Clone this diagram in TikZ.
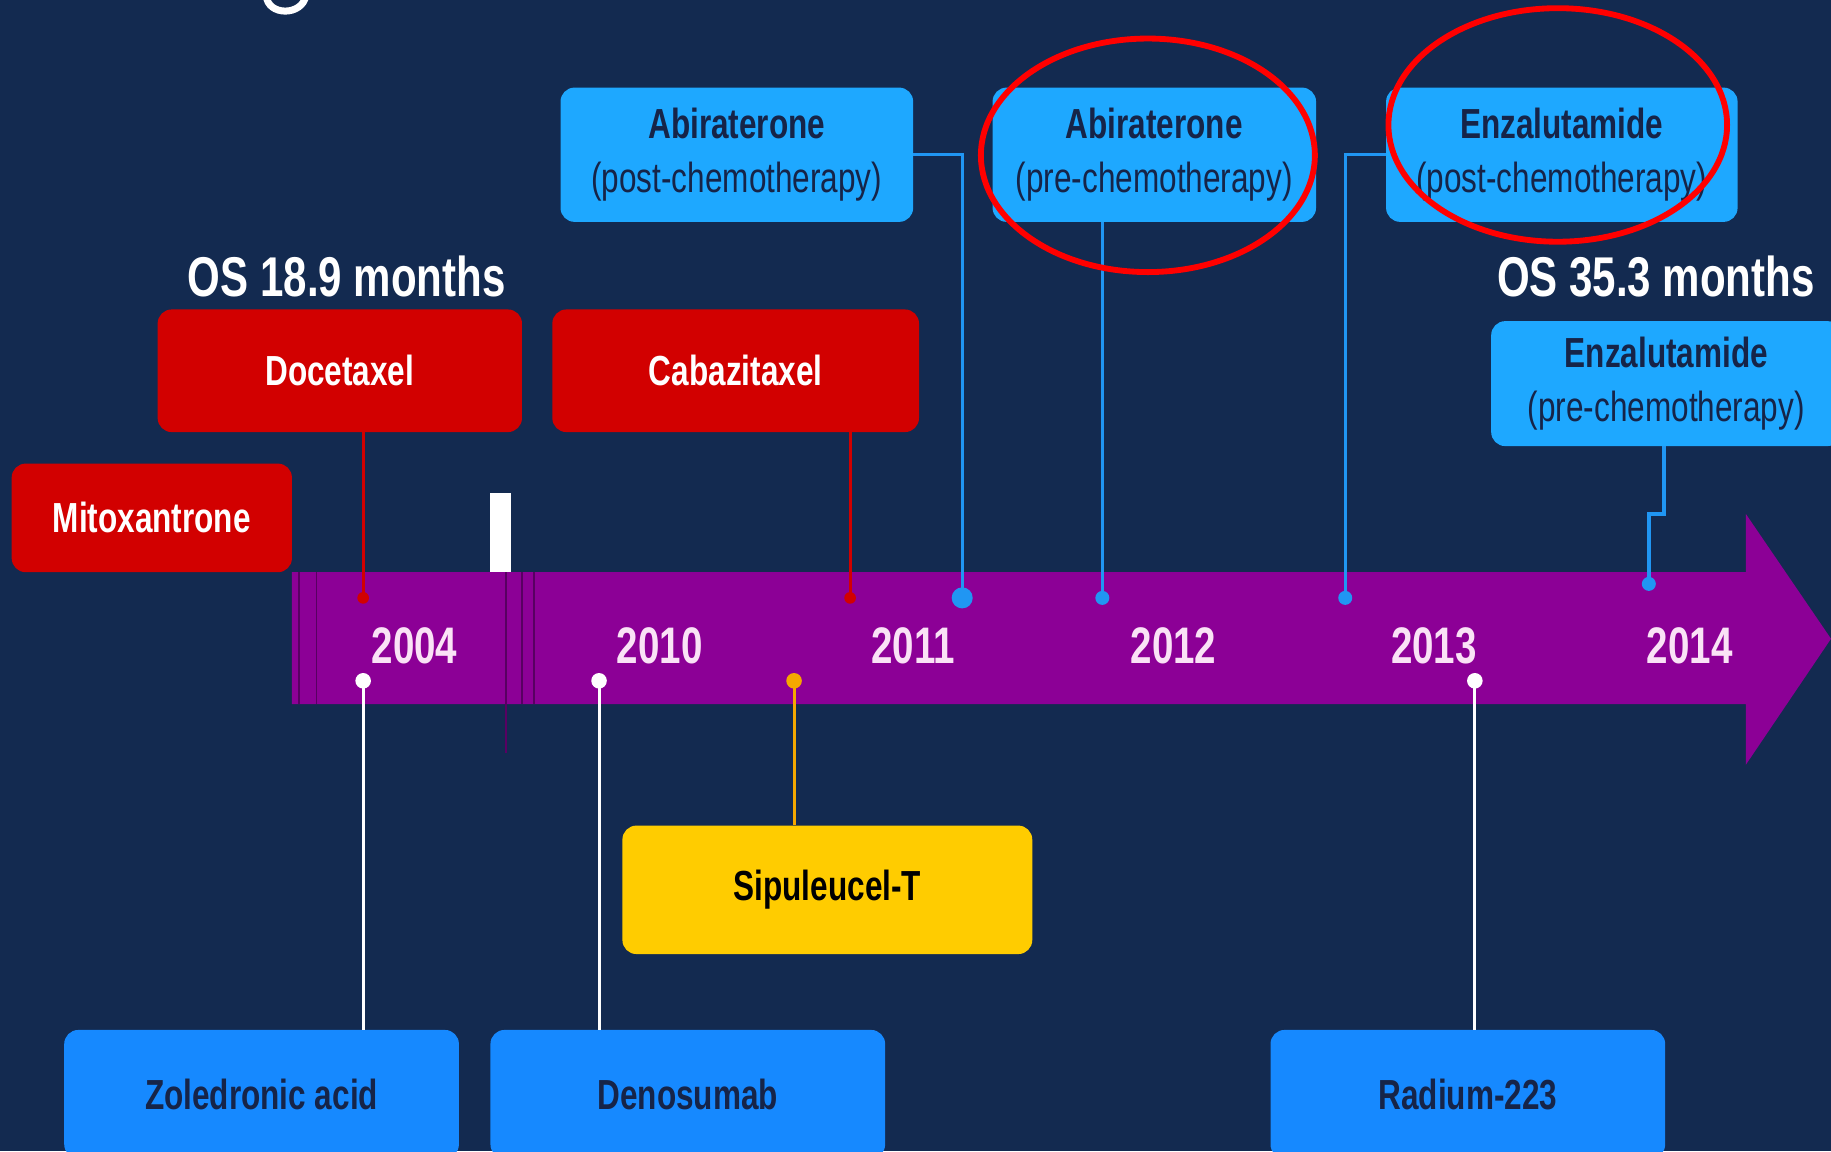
\documentclass[tikz,border=0pt]{standalone}
\usepackage{fontspec}
\setmainfont{Liberation Sans}
\newfontfamily\narrowfont[FakeStretch=0.75]{Liberation Sans}
\usetikzlibrary{calc}

\definecolor{navybg}{RGB}{19,42,80}
\definecolor{barpurple}{RGB}{140,0,150}
\definecolor{barline}{RGB}{88,0,98}
\definecolor{drugred}{RGB}{210,0,0}
\definecolor{topblue}{RGB}{30,168,255}
\definecolor{botblue}{RGB}{22,137,255}
\definecolor{pinblue}{RGB}{32,150,243}
\definecolor{boxtext}{RGB}{22,36,72}
\definecolor{sipuyellow}{RGB}{255,204,0}
\definecolor{sipuorange}{RGB}{245,168,0}
\definecolor{yeartext}{RGB}{250,226,246}

\tikzset{
  drugbox/.style={rounded corners=9pt, inner sep=0pt, align=center,
    font=\narrowfont\bfseries\fontsize{27}{34.5}\selectfont},
  redbox/.style={drugbox, fill=drugred, text=white},
  topbox/.style={drugbox, fill=topblue, text=boxtext},
  botbox/.style={drugbox, fill=botblue, text=boxtext, minimum width=253.5pt, minimum height=82.5pt},
  yellowbox/.style={drugbox, fill=sipuyellow, text=black},
  yearlabel/.style={text=yeartext, font=\narrowfont\bfseries\fontsize{33}{40}\selectfont},
  oslabel/.style={text=white, font=\narrowfont\bfseries\fontsize{36}{43}\selectfont},
  redpin/.style={drugred, line width=1.9pt},
  bluepin/.style={pinblue, line width=2.2pt},
  whitepin/.style={white, line width=1.9pt},
  orangepin/.style={sipuorange, line width=1.9pt},
  breakline/.style={barline, line width=1.2pt},
  annotring/.style={red, line width=3.75pt}
}

\begin{document}
\begin{tikzpicture}[x=0.75pt,y=0.75pt,yscale=-1]
\useasboundingbox (0,0) rectangle (1568,986);
\clip (0,0) rectangle (1568,986);
\fill[navybg] (0,0) rectangle (1568,986);

%Shape: cut title letter
\draw[white, line width=4.5pt] (228,-4) .. controls (229,14) and (259,14) .. (262,-4);

%Shape: Timeline arrow
\fill[barpurple] (250,490) -- (1495,490) -- (1495,440) -- (1568,547) -- (1495,655) -- (1495,603) -- (250,603) -- cycle;
%Break lines
\foreach \bx in {256,271,447,457}
  \draw[breakline] (\bx,490) -- (\bx,603);
\draw[breakline] (433,490) -- (433,645);
%Shape: white marker
\fill[white] (420,422) rectangle (438,490);

%Points on the timeline
\coordinate (p04) at (311,512);
\coordinate (p10c) at (728,512);
\coordinate (p11) at (824,512);
\coordinate (p12) at (944,512);
\coordinate (p13) at (1152,512);
\coordinate (p14) at (1412,500);
\coordinate (ejog) at (1425,440);
\coordinate (z04) at (311,583);
\coordinate (d10) at (513,583);
\coordinate (s10) at (680,583);
\coordinate (r13) at (1263,583);

% Text Node: years
\node[yearlabel] (y2004) at (355,553) {2004};
\node[yearlabel] (y2010) at (565,553) {2010};
\node[yearlabel] (y2011) at (782,553) {2011};
\node[yearlabel] (y2012) at (1005,553) {2012};
\node[yearlabel] (y2013) at (1228,553) {2013};
\node[yearlabel] (y2014) at (1447,553) {2014};

% Drug boxes above
\node[topbox, minimum width=226.5pt, minimum height=86.25pt] (abipost) at (631,132.5) {Abiraterone\\{\mdseries (post-chemotherapy)}};
\node[topbox, minimum width=207.75pt, minimum height=86.25pt] (abipre) at (988.5,132.5) {Abiraterone\\{\mdseries (pre-chemotherapy)}};
\node[topbox, minimum width=225.75pt, minimum height=86.25pt] (enzapost) at (1337.5,132.5) {Enzalutamide\\{\mdseries (post-chemotherapy)}};
\node[topbox, minimum width=225pt, minimum height=80.25pt] (enzapre) at (1427,328.5) {Enzalutamide\\{\mdseries (pre-chemotherapy)}};
\node[redbox, minimum width=234pt, minimum height=78.75pt] (doce) at (291,317.5) {Docetaxel};
\node[redbox, minimum width=235.5pt, minimum height=78.75pt] (caba) at (630,317.5) {Cabazitaxel};
\node[redbox, minimum width=180pt, minimum height=69.75pt] (mito) at (130,443.5) {Mitoxantrone};

% Text Node: OS
\node[oslabel] (os189) at (297,237) {OS 18.9 months};
\node[oslabel] (os353) at (1418,237) {OS 35.3 months};

% Drug boxes below
\node[yellowbox, minimum width=263.25pt, minimum height=82.5pt] (sipu) at (708.5,762) {Sipuleucel-T};
\node[botbox] (zole) at (224,937) {Zoledronic acid};
\node[botbox] (deno) at (589,937) {Denosumab};
\node[botbox] (radi) at (1257,937) {Radium-223};

%Connectors above
\draw[redpin] (doce.south -| p04) -- (p04);
\draw[redpin] (caba.south -| p10c) -- (p10c);
\fill[drugred] (p04) circle (3.75pt) (p10c) circle (3.75pt);
\draw[bluepin] (abipost.east) -- (abipost.east -| p11) -- (p11);
\draw[bluepin] (abipre.south -| p12) -- (p12);
\draw[bluepin] (enzapost.west) -- (enzapost.west -| p13) -- (p13);
\draw[bluepin] (enzapre.south -| ejog) -- (ejog) -- (ejog -| p14) -- (p14);
\fill[pinblue] (p11) circle (6.75pt) (p12) circle (4.5pt) (p13) circle (4.5pt) (p14) circle (4.5pt);

%Connectors below
\draw[whitepin] (z04) -- (z04 |- zole.north);
\draw[whitepin] (d10) -- (d10 |- deno.north);
\draw[whitepin] (r13) -- (r13 |- radi.north);
\fill[white] (z04) circle (5pt) (d10) circle (5pt) (r13) circle (5pt);
\draw[orangepin] (s10) -- (s10 |- sipu.north);
\fill[sipuorange] (s10) circle (5pt);

%Shape: red rings
\draw[annotring] (983,133) ellipse [x radius=143, y radius=100];
\draw[annotring] (1334,107) ellipse [x radius=145, y radius=100];

\end{tikzpicture}
\end{document}
